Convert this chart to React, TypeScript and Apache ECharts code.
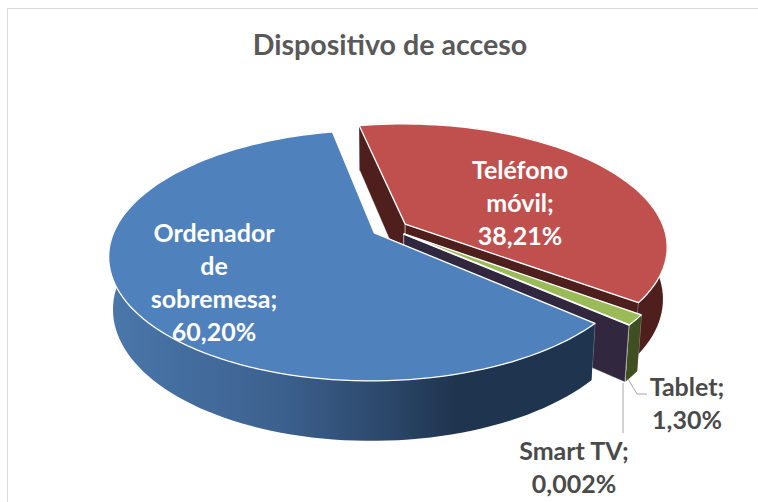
import React, { useEffect, useRef } from "react";
import * as echarts from "echarts";

const TITLE = "Dispositivo de acceso";
const categories = ["Teléfono\nmóvil", "Tablet", "Smart TV", "Ordenador\nde\nsobremesa"];
const shareValues = [38.21, 1.3, 0.002, 60.2];
const shareLabels = ["38,21%", "1,30%", "0,002%", "60,20%"];

// slice appearance, same order as categories
const topColors = ["#C0504D", "#9BBB59", "#8064A2", "#4F81BD"];
const wallColors = ["#4F1F1E", "#3F4F22", "#31273F", "#1F344F"];

// projection of the tilted disc
const ORIGIN_X = 390;
const ORIGIN_Y = 228.6;
const SCALE_X = 259;
const SCALE_Y = 119.7;
const PERSPECTIVE = 0.18;
const DEPTH_Y = 52;
const DEPTH_W = 0.015;
const EXPLODE = 0.07;
const FIRST_ANGLE = -101.5;

const rad = (d: number) => (d * Math.PI) / 180;

function project(u: number, v: number, bottom: boolean): number[] {
  const w = 1 - PERSPECTIVE * v + (bottom ? DEPTH_W : 0);
  return [ORIGIN_X + (SCALE_X * u) / w, ORIGIN_Y + (SCALE_Y * v + (bottom ? DEPTH_Y : 0)) / w];
}

const total = shareValues.reduce((a, b) => a + b, 0);

function sliceAngles(index: number) {
  let start = FIRST_ANGLE;
  for (let i = 0; i < index; i++) start += (shareValues[i] / total) * 360;
  return [start, start + (shareValues[index] / total) * 360];
}

const labelStyles = [
  { x: 520, y: 202, fill: "#ffffff" },
  { x: 687, y: 402, fill: "#4a4a4a" },
  { x: 574, y: 466, fill: "#4a4a4a" },
  { x: 214, y: 281, fill: "#ffffff" },
];

const leaders: number[][][] = [
  [],
  [[628, 379], [637, 394], [647, 394]],
  [[623, 383], [623, 433]],
  [],
];

function renderSlice(params: any, api: any) {
  const i = params.dataIndex;
  const value = api.value(0);
  const [a0] = sliceAngles(i);
  const a1 = a0 + (value / total) * 360;
  const mid = rad((a0 + a1) / 2);
  const ox = EXPLODE * Math.cos(mid);
  const oy = EXPLODE * Math.sin(mid);

  const steps = Math.max(1, Math.ceil((a1 - a0) / 2));
  const topArc: number[][] = [];
  const bottomArc: number[][] = [];
  for (let s = 0; s <= steps; s++) {
    const t = rad(a0 + ((a1 - a0) * s) / steps);
    const u = Math.cos(t) + ox;
    const v = Math.sin(t) + oy;
    topArc.push(project(u, v, false));
    bottomArc.push(project(u, v, true));
  }
  const apexTop = project(ox, oy, false);
  const apexBottom = project(ox, oy, true);

  const wallFill = wallColors[i];
  const rimFill =
    i === 3
      ? new echarts.graphic.LinearGradient(0, 0, 1, 0, [
          { offset: 0, color: "#4a77ab" },
          { offset: 0.35, color: "#3c618f" },
          { offset: 0.55, color: "#2d4a6e" },
          { offset: 0.72, color: "#1f344f" },
          { offset: 1, color: "#1f344f" },
        ])
      : wallFill;

  const poly = (points: number[][], fill: any, stroke: string, lineWidth: number) => ({
    type: "polygon",
    shape: { points },
    style: { fill, stroke, lineWidth, lineJoin: "round" },
  });

  const children: any[] = [];
  const lastTop = topArc[topArc.length - 1];
  const lastBottom = bottomArc[bottomArc.length - 1];
  children.push(poly([apexTop, topArc[0], bottomArc[0], apexBottom], wallFill, "rgba(255,255,255,0.55)", 0.8));
  children.push(poly([apexTop, lastTop, lastBottom, apexBottom], wallFill, "rgba(255,255,255,0.55)", 0.8));
  children.push(poly([...topArc, ...bottomArc.slice().reverse()], rimFill, "none", 0));
  children.push(poly([apexTop, ...topArc], topColors[i], "#ffffff", 1.3));

  if (leaders[i].length) {
    children.push({
      type: "polyline",
      shape: { points: leaders[i] },
      style: { fill: "none", stroke: "#a6a6a6", lineWidth: 1 },
    });
  }
  children.push({
    type: "text",
    z2: 10,
    style: {
      text: `${categories[i]};\n${shareLabels[i]}`,
      x: labelStyles[i].x,
      y: labelStyles[i].y,
      fill: labelStyles[i].fill,
      fontFamily: "Lato, 'Open Sans', sans-serif",
      fontSize: 25,
      fontWeight: "bold",
      lineHeight: 33,
      align: "center",
      verticalAlign: "middle",
    },
  });
  return { type: "group", children };
}

export default function App() {
  const ref = useRef<HTMLDivElement>(null);
  useEffect(() => {
    const chart = echarts.init(ref.current!, undefined, { renderer: "svg" });
    chart.setOption({
      animation: false,
      backgroundColor: "#ffffff",
      title: {
        text: TITLE,
        left: 385,
        top: 24,
        textAlign: "center",
        textStyle: {
          color: "#595959",
          fontFamily: "Lato, 'Open Sans', sans-serif",
          fontWeight: "bold",
          fontSize: 28.6,
        },
      },
      graphic: [
        {
          type: "polyline",
          shape: { points: [[7.5, 502], [7.5, 8.5], [758, 8.5]] },
          style: { fill: "none", stroke: "#d9d9d9", lineWidth: 1 },
          silent: true,
        },
      ],
      series: [
        {
          type: "custom",
          coordinateSystem: "none",
          renderItem: renderSlice,
          encode: { value: 0 },
          data: categories.map((name, i) => ({ name, value: [shareValues[i]] })),
        },
      ],
    });
    return () => chart.dispose();
  }, []);
  return (
    <div
      ref={ref}
      style={{ position: "fixed", left: 0, top: 0, width: 758, height: 502 }}
    />
  );
}
